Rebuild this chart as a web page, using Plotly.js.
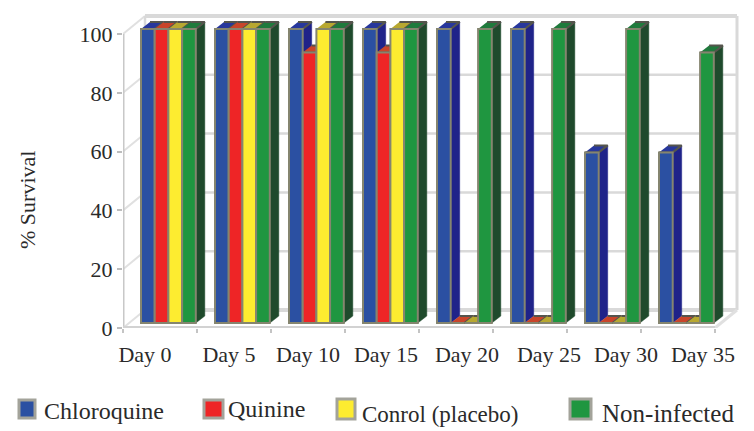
<!DOCTYPE html>
<html><head><meta charset="utf-8">
<script src="https://cdn.plot.ly/plotly-3.0.1.min.js"></script>
<style>html,body{margin:0;padding:0;background:#fff}</style>
</head><body><div id="chart" style="width:754px;height:431px"></div>
<script>
const categories = ["Day 0","Day 5","Day 10","Day 15","Day 20","Day 25","Day 30","Day 35"];
const seriesNames = ["Chloroquine","Quinine","Conrol (placebo)","Non-infected"];
const chloroquine = [100,100,100,100,100,100,58,58];
const quinine = [100,100,92,92,0,0,0,0];
const control = [100,100,100,100,0,0,0,0];
const nonInfected = [100,100,100,100,100,100,100,92];
const yTicks = [0,20,40,60,80,100];
const allSeries = [chloroquine,quinine,control,nonInfected];

// styles
const faceColors = ["#2b50a2","#ee2526","#fdec30","#1f9640"];
const sideColors = ["#1f2389","#8c3324","#a5a233","#1f4a2c"];
const topColors  = ["#27379c","#c9452a","#b8a830","#1f7a3c"];
const textColor = "#2a2a2a", serif = "Liberation Serif, serif";
// pixel scales of the chart frame
const pxX = 74, pxY = 2.94, x0px = 123, y0px = 328;
const xMax = (740-x0px)/pxX, yMax = (y0px-12)/pxY;
// depth of the walls and of the bars, in axis units
const wallDx = 22/pxX, wallDy = 18/pxY;
const barDx = 9/pxX, barDy = 7/pxY;
const barBase = 5/pxY, barStart = 18/pxX, barW = 13.7/pxX;
// label centres along the category axis
const labelPos = [145,229,308,386,467,549,626,703].map(p=>(p-x0px)/pxX);

const traces = [];
const poly = (xs,ys,fill,line,lw)=>({type:"scatter",mode:"lines",x:xs,y:ys,fill:"toself",
  fillcolor:fill,line:{color:line||fill,width:lw===undefined?0.5:lw},hoverinfo:"skip",showlegend:false,cliponaxis:false});
const wallLine = (xs,ys,w,c)=>({type:"scatter",mode:"lines",x:xs,y:ys,line:{color:c||"#d9d9d9",width:w||2},
  hoverinfo:"skip",showlegend:false,cliponaxis:false});

// back wall gridlines and the receding tick lines
yTicks.forEach(t=>{
  traces.push(wallLine([wallDx,8+wallDx],[t+wallDy,t+wallDy],t===100||t===0?4:2.5));
  traces.push(wallLine([0,wallDx],[t,t+wallDy],2,"#e0e0e0"));
});
traces.push(wallLine([wallDx,wallDx],[wallDy,100+wallDy],2.5));
traces.push(wallLine([8+wallDx,8+wallDx],[wallDy,100+wallDy],3));
traces.push(wallLine([8,8+wallDx],[0,wallDy],3,"#e0e0e0"));
traces.push(wallLine([0,0],[0,100],3,"#c8c8c8"));
traces.push(wallLine([0,8],[0,0],4,"#d2d2d2"));

// sides and tops, left to right
categories.forEach((c,k)=>{
  allSeries.forEach((s,i)=>{
    const xl = k+barStart+i*barW, xr = xl+barW, v = s[k]+barBase;
    traces.push(poly([xr,xr+barDx,xr+barDx,xr],[barBase,barBase+barDy,v+barDy,v],sideColors[i]));
    traces.push(poly([xl,xr,xr+barDx,xl+barDx],[v,v,v+barDy,v+barDy],topColors[i],"#55554d",2.2));
  });
});
// front faces, on the overlay axes so they sit above sides
allSeries.forEach((s,i)=>{
  traces.push({type:"bar",name:seriesNames[i],xaxis:"x2",yaxis:"y2",
    x:categories.map((c,k)=>k+barStart+i*barW+barW/2),y:s,base:barBase,width:barW,
    marker:{color:faceColors[i],line:{color:"#85856f",width:2}},showlegend:false,
    hovertemplate:"%{y}<extra>"+seriesNames[i]+"</extra>"});
});

// legend
const legendPx = [[19,35,400,418,42,411,24],[204,223,400,418,226,409,24],[337,355,399,419,360,414,23],[570,591,399,419,600,413,25]];
const shapes = legendPx.map((l,i)=>({type:"rect",xref:"paper",yref:"paper",
  x0:(l[0]-x0px)/(740-x0px),x1:(l[1]-x0px)/(740-x0px),y0:(y0px-l[3])/(y0px-12),y1:(y0px-l[2])/(y0px-12),
  fillcolor:faceColors[i],line:{color:"#a3a39a",width:3}}));
const annotations = legendPx.map((l,i)=>({xref:"paper",yref:"paper",xanchor:"left",yanchor:"middle",showarrow:false,
  x:(l[4]-x0px)/(740-x0px),y:(y0px-l[5])/(y0px-12),text:seriesNames[i],font:{family:serif,size:l[6],color:textColor}}));
annotations.push({xref:"paper",yref:"paper",x:(27-x0px)/(740-x0px),y:(y0px-200)/(y0px-12),textangle:-90,showarrow:false,
  xanchor:"center",yanchor:"middle",text:"% Survival",font:{family:serif,size:22,color:textColor}});

Plotly.newPlot("chart",traces,{
  width:754,height:431,showlegend:false,barmode:"overlay",
  paper_bgcolor:"#fff",plot_bgcolor:"rgba(0,0,0,0)",
  margin:{l:x0px,r:754-740,t:12,b:431-y0px,pad:0},
  xaxis:{range:[0,xMax],tickvals:[0,1,2,3,4,5,6,7,8],showticklabels:false,ticks:"outside",ticklen:4,tickcolor:"#c4c4c4",tickwidth:2,showgrid:false,zeroline:false,showline:false},
  yaxis:{range:[0,yMax],tickvals:yTicks,ticks:"outside",ticklen:5,tickcolor:"#bdbdbd",tickwidth:2,showgrid:false,zeroline:false,showline:false,
    tickfont:{family:serif,size:22,color:textColor}},
  xaxis2:{range:[0,xMax],overlaying:"x",anchor:"y2",side:"bottom",tickmode:"array",tickvals:labelPos,ticktext:categories,
    ticks:"outside",ticklen:7,tickcolor:"rgba(0,0,0,0)",showgrid:false,zeroline:false,showline:false,
    tickfont:{family:serif,size:22,color:textColor}},
  yaxis2:{range:[0,yMax],overlaying:"y",anchor:"x2",showticklabels:false,ticks:"",showgrid:false,zeroline:false,showline:false},
  shapes,annotations
},{displayModeBar:false,staticPlot:true});
</script></body></html>
